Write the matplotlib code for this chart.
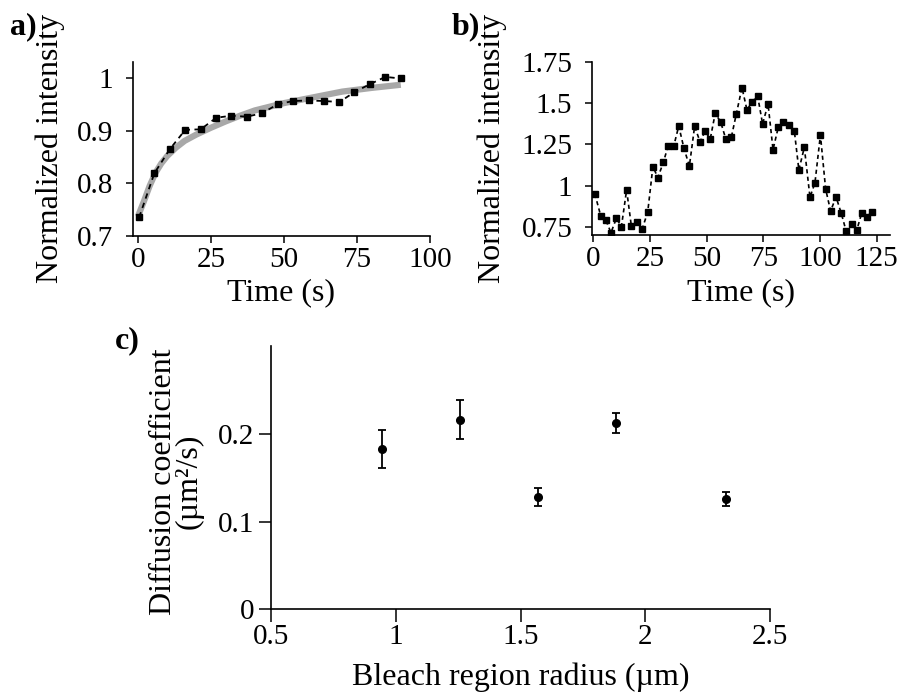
import matplotlib
matplotlib.use("Agg")
import matplotlib.pyplot as plt
import numpy as np

plt.rcParams['font.family'] = ['Liberation Serif', 'DejaVu Serif']
plt.rcParams['mathtext.fontset'] = 'stix'

# panel a: FRAP recovery + fit
time_a = [0.4, 5.6, 10.9, 16.2, 21.5, 26.8, 32.0, 37.3, 42.6, 47.9,
          53.2, 58.4, 63.7, 69.0, 74.1, 79.4, 84.7, 89.9]
intensity_a = [0.735, 0.819, 0.865, 0.902, 0.903, 0.925, 0.929, 0.927, 0.934, 0.951,
               0.957, 0.958, 0.957, 0.955, 0.974, 0.989, 1.003, 1.000]
fit_time_a = [0, 2, 4, 6, 8, 10, 13, 16, 20, 25, 30, 35, 40, 50, 60, 70, 80, 90]
fit_a = [0.737, 0.765, 0.795, 0.820, 0.838, 0.852, 0.868, 0.881, 0.893, 0.906,
         0.918, 0.929, 0.939, 0.953, 0.964, 0.975, 0.982, 0.988]

# panel b: intensity trace
time_b = [0.7, 3.3, 5.5, 7.8, 10.2, 12.4, 14.7, 16.8, 19.3, 21.5,
          24.0, 26.3, 28.5, 30.9, 33.0, 35.5, 37.7, 40.0, 42.4, 44.7,
          47.1, 49.3, 51.6, 53.8, 56.2, 58.5, 60.9, 63.1, 65.6, 67.8,
          70.0, 72.5, 74.7, 77.1, 79.3, 81.6, 83.8, 86.2, 88.7, 90.7,
          93.1, 95.6, 97.8, 100.2, 102.5, 104.7, 107.1, 109.4, 111.5, 114.0,
          116.2, 118.4, 120.7, 123.1]
intensity_b = [0.950, 0.817, 0.793, 0.716, 0.803, 0.752, 0.974, 0.756, 0.782, 0.736,
               0.839, 1.115, 1.049, 1.141, 1.240, 1.240, 1.361, 1.226, 1.119, 1.359,
               1.266, 1.329, 1.283, 1.438, 1.385, 1.281, 1.293, 1.434, 1.593, 1.458,
               1.506, 1.543, 1.373, 1.494, 1.218, 1.353, 1.385, 1.367, 1.331, 1.095,
               1.232, 0.930, 1.018, 1.307, 0.980, 0.847, 0.932, 0.833, 0.728, 0.768,
               0.730, 0.833, 0.813, 0.843]

# panel c: diffusion coefficient vs bleach radius
radius_c = [0.943, 1.255, 1.571, 1.884, 2.322]
diff_c = [0.182, 0.216, 0.128, 0.212, 0.126]
err_c = [0.0216, 0.0217, 0.0104, 0.0118, 0.008]

W, H = 902, 694
fig = plt.figure(figsize=(W / 100, H / 100), dpi=100)


def px_axes(left, top, right, bottom):
    return fig.add_axes([left / W, 1 - bottom / H, (right - left) / W, (bottom - top) / H])


def style(ax, ticklen, xpad, ypad):
    for s in ['top', 'right']:
        ax.spines[s].set_visible(False)
    for s in ['left', 'bottom']:
        ax.spines[s].set_linewidth(1.2)
    ax.tick_params(direction='out', length=ticklen, width=1.1, labelsize=21)
    ax.tick_params(axis='x', pad=xpad)
    ax.tick_params(axis='y', pad=ypad)


label_fs = 23

# a)
ax1 = px_axes(132.7, 61.7, 430, 235.7)
ax1.plot(fit_time_a, fit_a, color='#a8a8a8', lw=4.5, solid_capstyle='butt', zorder=1)
ax1.plot(time_a, intensity_a, 's--', color='black', ms=4.5, lw=1.3, dashes=(3, 2.5), zorder=2)
ax1.set_xlim(-1.8, 100)
ax1.set_ylim(0.7, 1.032)
ax1.set_xticks([0, 25, 50, 75, 100])
ax1.set_yticks([0.7, 0.8, 0.9, 1.0])
ax1.set_yticklabels(['0.7', '0.8', '0.9', '1'])
style(ax1, 5, 3, 9)
ax1.set_xlabel('Time (s)', fontsize=label_fs)
ax1.set_ylabel('Normalized intensity', fontsize=label_fs)
ax1.yaxis.set_label_coords(-0.228, 0.5)
ax1.xaxis.set_label_coords(0.5, -0.245)
fig.text(10 / W, 1 - 34 / H, 'a)', fontsize=23, fontweight='bold')

# b)
ax2 = px_axes(591.7, 61.7, 890, 235.3)
ax2.plot(time_b, intensity_b, 's--', color='black', ms=4.6, lw=1.2, dashes=(2.5, 2))
ax2.set_xlim(-0.7, 130.9)
ax2.set_ylim(0.70, 1.75)
ax2.set_xticks([0, 25, 50, 75, 100, 125])
ax2.set_yticks([0.75, 1.0, 1.25, 1.5, 1.75])
ax2.set_yticklabels(['0.75', '1', '1.25', '1.5', '1.75'])
style(ax2, 5, 3, 9)
ax2.set_xlabel('Time (s)', fontsize=label_fs)
ax2.set_ylabel('Normalized intensity', fontsize=label_fs)
ax2.yaxis.set_label_coords(-0.283, 0.5)
ax2.xaxis.set_label_coords(0.5, -0.245)
fig.text(452 / W, 1 - 34 / H, 'b)', fontsize=23, fontweight='bold')

# c)
ax3 = px_axes(271.3, 345.7, 770, 609.4)
ax3.errorbar(radius_c, diff_c, yerr=err_c, fmt='o', color='black', ms=5.5,
             elinewidth=1.3, capsize=3, capthick=1.3)
ax3.set_xlim(0.5, 2.5)
ax3.set_ylim(0, 0.3)
ax3.set_xticks([0.5, 1, 1.5, 2, 2.5])
ax3.set_xticklabels(['0.5', '1', '1.5', '2', '2.5'])
ax3.set_yticks([0, 0.1, 0.2])
ax3.set_yticklabels(['0', '0.1', '0.2'])
style(ax3, 9, 1.5, 3.5)
ax3.set_xlabel('Bleach region radius (µm)', fontsize=label_fs)
ax3.set_ylabel('Diffusion coefficient\n(µm²/s)', fontsize=label_fs, linespacing=0.85)
ax3.yaxis.set_label_coords(-0.135, 0.485)
ax3.xaxis.set_label_coords(0.5, -0.2)
fig.text(115 / W, 1 - 348 / H, 'c)', fontsize=23, fontweight='bold')

fig.savefig('out.png', dpi=100)
